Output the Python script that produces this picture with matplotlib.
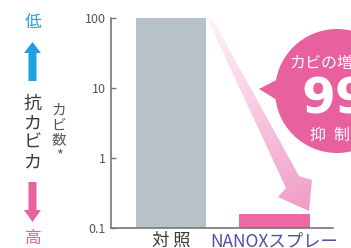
import numpy as np
import matplotlib
matplotlib.use("Agg")
import matplotlib.pyplot as plt
from matplotlib.patches import Polygon, Circle
from matplotlib.path import Path
from matplotlib.patches import PathPatch

plt.rcParams['font.family'] = ['Noto Sans CJK JP', 'DejaVu Sans']

# ---- data ----
categories = ["対 照", "NANOXスプレー"]
values = [100, 0.16]
bar_colors = ["#b7c2c8", "#ec6aa3"]
label_colors = ["#3a3a3a", "#5a4a9e"]
yticks = [0.1, 1, 10, 100]
ytick_labels = ["0.1", "1", "10", "100"]

W, H = 351, 248
fig = plt.figure(figsize=(W / 100, H / 100), dpi=100)
ax = fig.add_axes([111 / W, 20 / H, (333 - 111) / W, (228 - 18) / H])

x = np.arange(len(values))
ax.bar(x, values, width=0.68, color=bar_colors, zorder=2)
ax.set_yscale('log')
ax.set_ylim(0.1, 100)
ax.set_xlim(-0.58, 1.565)
ax.set_yticks(yticks)
ax.set_yticklabels(ytick_labels)
ax.minorticks_off()
ax.yaxis.set_minor_locator(matplotlib.ticker.NullLocator())
ax.tick_params(axis='y', direction='in', length=3.5, width=1, color='#777777',
               labelsize=9, labelcolor='#555555', pad=4)
ax.set_xticks(x)
ax.set_xticklabels(categories, fontsize=12.5)
for lbl, c in zip(ax.get_xticklabels(), label_colors):
    lbl.set_color(c)
ax.tick_params(axis='x', length=0, pad=3)
for s in ['top', 'right']:
    ax.spines[s].set_visible(False)
for s in ['left', 'bottom']:
    ax.spines[s].set_color('#777777')
    ax.spines[s].set_linewidth(1.2)

# ---- overlay in pixel coordinates ----
ov = fig.add_axes([0, 0, 1, 1], facecolor='none')
ov.set_xlim(0, W)
ov.set_ylim(H, 0)
ov.axis('off')

# gradient arrow
arrow_pts = [(207, 18), (212, 18), (299, 176), (312, 180), (309, 211),
             (278, 197), (286, 188)]
poly = Polygon(arrow_pts, closed=True, facecolor='none', edgecolor='none')
ov.add_patch(poly)
gx = np.linspace(0, 1, 200)
gy = np.linspace(0, 1, 200)
GX, GY = np.meshgrid(gx, gy)
t = np.clip(0.85 * GY + 0.15 * GX, 0, 1)
c0 = np.array([255, 245, 250]) / 255
c1 = np.array([240, 155, 198]) / 255
img = c0[None, None, :] * (1 - t[..., None]) + c1[None, None, :] * t[..., None]
im = ov.imshow(img, extent=(205, 315, 212, 16), aspect='auto', zorder=3,
               interpolation='bilinear')
im.set_clip_path(poly)

# bubble
pink = '#e8609e'
ov.add_patch(Circle((337, 91), 62, facecolor=pink, edgecolor='none', zorder=4))
ov.add_patch(Polygon([(259, 89), (282, 77), (282, 103)], closed=True,
                     facecolor=pink, edgecolor='none', zorder=4))
ov.text(289, 63, "カビの増殖を", color='white', fontsize=11.5, ha='left',
        va='center', zorder=5)
ov.text(301, 99, "99%", color='white', fontsize=35, fontweight='bold',
        ha='left', va='center', zorder=5, family=['DejaVu Sans'])
ov.text(310, 135, "抑", color='white', fontsize=11.5, ha='left', va='center', zorder=5)
ov.text(333, 135, "制", color='white', fontsize=11.5, ha='left', va='center', zorder=5)

# left side labels
blue = '#1fa0e0'
ov.text(33.5, 22, "低", color=blue, fontsize=12, ha='center', va='center')
ov.add_patch(Polygon([(28.5, 81), (36.5, 81), (36.5, 53), (41, 53), (32.5, 42),
                      (24, 53), (28.5, 53)], closed=True, facecolor=blue,
                     edgecolor='none'))
ov.text(32.5, 133, "抗\nカ\nビ\nカ", color='#3a3a3a', fontsize=13, ha='center',
        va='center', linespacing=1.12)
ov.add_patch(Polygon([(28.5, 182), (36.5, 182), (36.5, 210), (41, 210), (32.5, 222),
                      (24, 210), (28.5, 210)], closed=True, facecolor=pink,
                     edgecolor='none'))
ov.text(33.5, 238, "高", color=pink, fontsize=12, ha='center', va='center')
ov.text(59, 133, "カ\nビ\n数\n*", color='#555555', fontsize=10.5, ha='center',
        va='center', linespacing=1.08)

fig.savefig("out.png", dpi=100)
